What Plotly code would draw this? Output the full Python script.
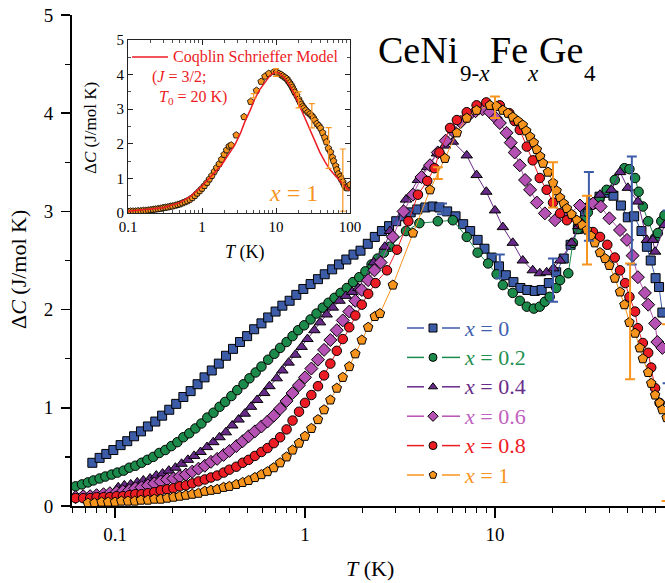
import plotly.graph_objects as go

# ---------------- data ----------------
T_x0 = [0.076, 0.083, 0.090, 0.098, 0.107, 0.116, 0.126, 0.137, 0.149, 0.163, 0.177, 0.193, 0.21, 0.229,
        0.25, 0.272, 0.296, 0.323, 0.352, 0.384, 0.418, 0.455, 0.496, 0.54, 0.59, 0.64, 0.70, 0.76, 0.83,
        0.90, 0.98, 1.07, 1.17, 1.27, 1.39, 1.51, 1.65, 1.80, 1.96, 2.14, 2.33, 2.54, 2.77, 3.02, 3.3,
        3.6, 3.9, 4.3, 4.7, 5.1, 5.6, 6.2, 6.8, 7.4, 8.1, 8.8, 9.6, 10.5, 11.4, 12.5, 13.6, 14.8, 16.2,
        17.6, 19.2, 21, 23, 25, 27.3, 29.8, 32.5, 35.5, 38.7, 42, 46, 50, 54, 59, 63, 66, 70, 73, 76]
C_x0 = [0.44, 0.49, 0.53, 0.57, 0.62, 0.66, 0.71, 0.76, 0.81, 0.86, 0.92, 0.98, 1.04, 1.11,
        1.17, 1.24, 1.31, 1.38, 1.45, 1.53, 1.60, 1.67, 1.73, 1.80, 1.86, 1.92, 1.98, 2.04, 2.09,
        2.15, 2.21, 2.26, 2.31, 2.36, 2.41, 2.46, 2.51, 2.56, 2.60, 2.67, 2.74, 2.80, 2.85, 2.90, 2.95,
        2.99, 3.02, 3.04, 3.05, 3.04, 3.00, 2.95, 2.87, 2.80, 2.71, 2.62, 2.53, 2.44, 2.35, 2.28, 2.22, 2.20, 2.19,
        2.20, 2.27, 2.38, 2.52, 2.66, 2.82, 2.97, 3.08, 3.15, 3.19, 3.16, 3.06, 2.94, 2.95, 2.80, 2.64, 2.50, 2.32, 2.23, 1.97]

T_x02 = [0.062, 0.067, 0.072, 0.077, 0.083, 0.089, 0.096, 0.103, 0.111, 0.119, 0.128, 0.138, 0.148, 0.159,
         0.171, 0.184, 0.198, 0.213, 0.229, 0.246, 0.265, 0.285, 0.306, 0.33, 0.355, 0.38, 0.41, 0.44, 0.475,
         0.51, 0.55, 0.59, 0.64, 0.69, 0.74, 0.80, 0.86, 0.92, 0.99, 1.07, 1.15, 1.24, 1.33, 1.43, 1.54, 1.66,
         1.79, 1.93, 2.08, 2.24, 2.41, 2.6, 2.8, 3.4, 4.0, 5.0, 6.0, 7.1, 8.1, 9.2, 10.2, 11.0, 12.4, 13.5,
         14.7, 16.0, 17.2, 18.3, 19.4, 21, 22, 24.3, 25.7, 27.3, 29, 30.8, 32.8, 35.5, 38.7, 42.7, 48, 51,
         54.6, 57, 60, 64, 69.6, 72, 75, 78]
C_x02 = [0.20, 0.22, 0.24, 0.26, 0.28, 0.30, 0.32, 0.34, 0.36, 0.39, 0.41, 0.44, 0.47, 0.50,
         0.54, 0.57, 0.61, 0.65, 0.70, 0.74, 0.79, 0.84, 0.90, 0.95, 1.01, 1.06, 1.12, 1.18, 1.24,
         1.30, 1.36, 1.42, 1.49, 1.55, 1.61, 1.67, 1.73, 1.79, 1.84, 1.90, 1.96, 2.02, 2.07, 2.12, 2.17, 2.22,
         2.28, 2.33, 2.39, 2.46, 2.52, 2.58, 2.64, 2.80, 2.88, 2.90, 2.91, 2.74, 2.58, 2.47, 2.36, 2.25, 2.17, 2.09,
         2.03, 2.01, 2.03, 2.08, 2.13, 2.22, 2.30, 2.37, 2.68, 2.82, 2.91, 2.99, 3.07, 3.14, 3.22, 3.32, 3.44, 3.43,
         3.34, 3.20, 3.05, 2.90, 2.73, 2.78, 2.90, 2.96]

T_x04 = [0.062, 0.068, 0.074, 0.080, 0.087, 0.094, 0.100, 0.104, 0.112, 0.121, 0.131, 0.141, 0.153, 0.165,
         0.178, 0.192, 0.208, 0.224, 0.242, 0.261, 0.282, 0.305, 0.329, 0.355, 0.383, 0.414, 0.447, 0.482,
         0.52, 0.56, 0.61, 0.65, 0.71, 0.76, 0.82, 0.89, 0.96, 1.03, 1.12, 1.2, 1.3, 1.4, 1.52, 1.64, 1.77,
         1.91, 2.3, 2.63, 2.8, 3.4, 3.93, 4.4, 4.95, 5.45, 6.0, 7.1, 8.0, 9.0, 10.0, 11.0, 12.4, 14.0, 15.8,
         17.2, 18.7, 20.3, 22, 25.3, 27.5, 30.5, 35.7, 41, 45.5, 50, 56.5, 63, 67.6, 69.6, 78]
C_x04 = [0.10, 0.11, 0.11, 0.12, 0.12, 0.13, 0.13, 0.19, 0.21, 0.22, 0.24, 0.26, 0.28, 0.31,
         0.33, 0.36, 0.39, 0.43, 0.47, 0.51, 0.55, 0.60, 0.65, 0.70, 0.75, 0.82, 0.88, 0.94,
         1.01, 1.08, 1.15, 1.22, 1.30, 1.38, 1.46, 1.54, 1.62, 1.70, 1.79, 1.87, 1.95, 2.02, 2.09, 2.14, 2.18,
         2.22, 2.48, 2.64, 2.80, 3.12, 3.32, 3.45, 3.59, 3.67, 3.71, 3.57, 3.37, 3.20, 3.01, 2.84, 2.68, 2.50, 2.40,
         2.37, 2.38, 2.42, 2.50, 2.68, 2.85, 3.05, 3.17, 3.22, 3.40, 3.24, 3.10, 2.71, 2.71, 2.59, 2.86]

T_x06 = [0.062, 0.068, 0.074, 0.080, 0.087, 0.094, 0.102, 0.110, 0.119, 0.128, 0.138, 0.149, 0.161, 0.174,
         0.188, 0.203, 0.219, 0.236, 0.255, 0.275, 0.297, 0.32, 0.345, 0.373, 0.40, 0.435, 0.47, 0.505, 0.545,
         0.59, 0.635, 0.685, 0.74, 0.80, 0.86, 0.93, 1.0, 1.08, 1.17, 1.26, 1.36, 1.47, 1.58, 1.71, 1.84, 1.99,
         2.15, 2.32, 2.5, 2.9, 3.3, 3.7, 4.1, 4.55, 5.0, 5.5, 6.0, 6.6, 7.2, 7.9, 8.6, 9.4, 10.1, 10.6, 11.5,
         12.1, 12.7, 13.5, 14.4, 15.3, 16.6, 18.3, 20.7, 23.9, 28, 32.8, 36, 40, 45.5, 49.5, 53, 56.5, 61.5,
         64, 69.6, 71.5, 76]
C_x06 = [0.09, 0.10, 0.10, 0.11, 0.12, 0.13, 0.14, 0.15, 0.16, 0.18, 0.19, 0.21, 0.23, 0.25,
         0.27, 0.28, 0.30, 0.32, 0.35, 0.38, 0.41, 0.45, 0.48, 0.52, 0.56, 0.61, 0.66, 0.71, 0.76,
         0.81, 0.86, 0.92, 0.99, 1.07, 1.15, 1.23, 1.31, 1.40, 1.49, 1.59, 1.69, 1.79, 1.89, 1.98, 2.09, 2.20,
         2.30, 2.40, 2.48, 2.74, 3.00, 3.17, 3.35, 3.47, 3.60, 3.72, 3.82, 3.91, 3.97, 4.02, 4.04, 4.01, 3.95, 3.90, 3.80,
         3.70, 3.60, 3.47, 3.32, 3.22, 3.09, 2.98, 2.91, 2.96, 3.06, 3.08, 3.05, 2.93, 2.81, 2.71, 2.55, 2.33, 2.17,
         2.05, 1.86, 1.67, 1.61]

T_x08 = [0.062, 0.068, 0.074, 0.080, 0.087, 0.094, 0.102, 0.110, 0.119, 0.128, 0.138, 0.149, 0.161, 0.174,
         0.188, 0.203, 0.219, 0.236, 0.255, 0.275, 0.297, 0.32, 0.345, 0.373, 0.40, 0.435, 0.47, 0.505, 0.545,
         0.59, 0.635, 0.685, 0.74, 0.80, 0.86, 0.93, 1.0, 1.08, 1.17, 1.26, 1.36, 1.47, 1.58, 1.71, 1.84, 1.99,
         2.15, 2.35, 2.7, 3.05, 3.5, 3.93, 4.4, 4.8, 5.1, 5.8, 6.3, 7.1, 8.0, 9.0, 10.6, 11.9, 12.7, 13.5,
         14.7, 15.8, 17.2, 18.7, 20.2, 22, 23.9, 28, 32.8, 35.7, 39, 42.7, 45.5, 48.4, 51, 54.6, 56.5, 60,
         64, 66.4, 69.6, 73.5]
C_x08 = [0.08, 0.08, 0.08, 0.09, 0.09, 0.09, 0.10, 0.10, 0.11, 0.12, 0.12, 0.13, 0.14, 0.16,
         0.17, 0.18, 0.20, 0.21, 0.23, 0.25, 0.27, 0.29, 0.31, 0.34, 0.37, 0.40, 0.44, 0.47, 0.51,
         0.55, 0.59, 0.64, 0.70, 0.78, 0.87, 0.96, 1.05, 1.13, 1.22, 1.33, 1.45, 1.58, 1.70, 1.82, 1.94, 2.05,
         2.16, 2.27, 2.40, 2.61, 2.90, 3.17, 3.31, 3.44, 3.60, 3.85, 3.93, 4.01, 4.08, 4.11, 4.08, 4.00, 3.92, 3.83,
         3.66, 3.52, 3.34, 3.22, 3.09, 2.98, 2.91, 2.88, 2.79, 2.74, 2.66, 2.53, 2.40, 2.27, 2.13, 1.98, 1.81, 1.66,
         1.56, 1.41, 1.20, 1.05]

T_x1 = [0.072, 0.078, 0.085, 0.092, 0.10, 0.108, 0.117, 0.127, 0.137, 0.149, 0.161, 0.174, 0.188, 0.203,
        0.219, 0.236, 0.255, 0.275, 0.297, 0.32, 0.345, 0.373, 0.40, 0.435, 0.47, 0.505, 0.545, 0.59, 0.635,
        0.685, 0.74, 0.80, 0.86, 0.93, 1.0, 1.08, 1.17, 1.26, 1.36, 1.47, 1.58, 1.71, 1.84, 1.99, 2.15, 2.33,
        2.48, 2.9, 3.7, 4.55, 5.45, 6.3, 7.1, 8.0, 9.4, 10.2, 11.0, 11.7, 12.4, 13.2, 14.0, 14.6, 15.3, 16.0,
        16.6, 17.3, 17.9, 19.0, 20.2, 21.1, 22.0, 23.0, 23.9, 25.3, 27.0, 28.8, 30.5, 32.0, 33.5, 35.7, 38,
        40, 42.7, 45.5, 48, 51, 54.6, 57.8, 60, 64, 66.4, 69.6, 73.5, 76, 80, 84, 88, 92, 96, 100]
C_x1 = [0.03, 0.03, 0.04, 0.04, 0.04, 0.05, 0.05, 0.05, 0.06, 0.06, 0.07, 0.07, 0.08, 0.09,
        0.10, 0.11, 0.12, 0.13, 0.15, 0.16, 0.17, 0.19, 0.20, 0.22, 0.24, 0.26, 0.29, 0.32, 0.35,
        0.39, 0.44, 0.50, 0.57, 0.64, 0.71, 0.79, 0.88, 0.98, 1.08, 1.20, 1.31, 1.42, 1.55, 1.69, 1.82, 1.93,
        1.96, 2.25, 2.78, 3.22, 3.54, 3.80, 3.95, 4.03, 4.08, 4.07, 4.03, 4.00, 3.96, 3.92, 3.88, 3.82, 3.76, 3.70,
        3.63, 3.56, 3.49, 3.40, 3.29, 3.21, 3.14, 3.08, 3.03, 2.97, 2.91, 2.86, 2.81, 2.75, 2.68, 2.58, 2.52,
        2.45, 2.32, 2.18, 2.05, 1.87, 1.76, 1.61, 1.50, 1.36, 1.25, 1.13, 1.05, 0.98, 0.90, 0.80, 0.74, 0.72, 0.78, 0.82]

# error bars
errT_x0 = [5.26, 10.6, 20.2, 31.2, 52.5, 81]
errC_x0 = [3.025, 2.44, 2.30, 3.05, 3.01, 2.13]
errE_x0 = [0.055, 0.12, 0.22, 0.35, 0.55, 0.88]
errT_x1 = [5.0, 10.0, 20.2, 30.5, 51.4, 80]
errC_x1 = [3.39, 4.06, 3.27, 2.81, 1.88, 0.95]
errE_x1 = [0.06, 0.11, 0.23, 0.35, 0.59, 0.90]

# Coqblin-Schrieffer model (inset)
T_cs = [0.1, 0.2, 0.3, 0.5, 0.7, 1.0, 1.4, 1.84, 2.3, 2.78, 3.3, 3.8, 4.5, 5.2, 6.1, 7.1, 8.3, 9.7,
        11.3, 13.2, 15.4, 18, 21, 24.6, 28.7, 33.6, 39, 46, 53, 62, 71, 81, 90, 100]
C_cs = [0.05, 0.10, 0.15, 0.30, 0.48, 0.78, 1.10, 1.39, 1.70, 1.97, 2.30, 2.64, 2.98, 3.31, 3.58, 3.79, 3.97, 4.07,
        4.03, 3.89, 3.68, 3.41, 3.08, 2.74, 2.40, 2.06, 1.76, 1.48, 1.27, 1.10, 0.95, 0.81, 0.72, 0.65]

labels = ["0", "0.2", "0.4", "0.6", "0.8", "1"]

# ---------------- styling ----------------
W, H = 665, 583
ML, MR, MT, MB = 72, 0, 15, 77
PW, PH = W - ML - MR, H - MT - MB
SERIF = "Liberation Serif"


def px(xp):
    return (xp - ML) / PW


def py(yp):
    return (H - MB - yp) / PH


series = [
    (T_x0, C_x0, "square", "#3c5ca8", "#4060b0", 9),
    (T_x02, C_x02, "circle", "#1c8a4a", "#1f9150", 9.5),
    (T_x04, C_x04, "triangle-up", "#682a88", "#6a2c8a", 10),
    (T_x06, C_x06, "diamond", "#b451b2", "#c060c0", 10),
    (T_x08, C_x08, "circle", "#ec1c24", "#ee2024", 9.5),
    (T_x1, C_x1, "pentagon", "#f7941d", "#f7941d", 10),
]

fig = go.Figure()
for (tx, cy, sym, col, tcol, ms), lab in zip(series, labels):
    fig.add_trace(go.Scatter(
        x=tx, y=cy, mode="lines+markers", name="x = " + lab, showlegend=False,
        line=dict(color=col, width=1),
        marker=dict(symbol=sym, size=ms, color=col, line=dict(color="black", width=1)),
        xaxis="x", yaxis="y"))

for et, ec, ee, col in [(errT_x0, errC_x0, errE_x0, "#3c5ca8"), (errT_x1, errC_x1, errE_x1, "#f7941d")]:
    fig.add_trace(go.Scatter(
        x=et, y=ec, mode="markers", showlegend=False,
        marker=dict(size=1, color="rgba(0,0,0,0)"),
        error_y=dict(type="data", array=ee, visible=True, color=col, thickness=2, width=5),
        xaxis="x", yaxis="y", hoverinfo="skip"))

# inset
fig.add_trace(go.Scatter(
    x=T_x1, y=C_x1, mode="markers", showlegend=False,
    marker=dict(symbol="pentagon", size=7, color="#f7941d", line=dict(color="black", width=0.8)),
    xaxis="x2", yaxis="y2"))
fig.add_trace(go.Scatter(
    x=T_cs, y=C_cs, mode="lines", showlegend=False,
    line=dict(color="#ec1c24", width=1.5), xaxis="x2", yaxis="y2"))
fig.add_trace(go.Scatter(
    x=errT_x1, y=errC_x1, mode="markers", showlegend=False,
    marker=dict(size=1, color="rgba(0,0,0,0)"),
    error_y=dict(type="data", array=errE_x1, visible=True, color="#f7941d", thickness=1.2, width=3),
    xaxis="x2", yaxis="y2", hoverinfo="skip"))

# ---- hand-made legend (line - marker - line, coloured label) ----
leg_y = [py(328 + 29.4 * i) for i in range(6)]
fig.add_trace(go.Scatter(
    x=[px(433)] * 6, y=leg_y, mode="markers", showlegend=False, hoverinfo="skip",
    marker=dict(symbol=[s[2] for s in series], size=8, color=[s[3] for s in series],
                line=dict(color="black", width=1)),
    xaxis="x4", yaxis="y4"))

shapes = []
annots = []
for (tx, cy, sym, col, tcol, ms), lab, yy in zip(series, labels, leg_y):
    for a, b in ((407, 424), (442, 460)):
        shapes.append(dict(type="line", xref="paper", yref="paper", x0=px(a), x1=px(b), y0=yy, y1=yy,
                           line=dict(color=col, width=1.5)))
    annots.append(dict(x=px(462), y=yy, text=f"<i>x</i> = {lab}", xanchor="left",
                       font=dict(size=22, color=tcol)))

# title pieces (formula with deep subscripts)
title_parts = [
    ("CeNi", 376, 50, 38), ("9-<i>x</i>", 458, 73, 23), ("Fe", 488, 50, 38),
    ("<i>x</i>", 525, 73, 23), ("Ge", 537, 50, 38), ("4", 582, 73, 23),
]
for txt, xl, yc, fs in title_parts:
    annots.append(dict(x=px(xl), y=py(yc), text=txt, xanchor="left", font=dict(size=fs)))

minor_main = [m * 10 ** d for d in (-2, -1, 0, 1) for m in range(2, 10)]
minor_inset = [m * 10 ** d for d in (-1, 0, 1) for m in range(2, 10)]
xr = [-1.2263, 1.8947]
tickfont = dict(family=SERIF, size=19, color="black")
insfont = dict(family=SERIF, size=15, color="black")

fig.update_layout(
    width=W, height=H,
    margin=dict(l=ML, r=MR, t=MT, b=MB, autoexpand=False),
    paper_bgcolor="white", plot_bgcolor="white",
    font=dict(family=SERIF, color="black"),
    showlegend=False,
    xaxis=dict(type="log", range=xr, domain=[0, 1], anchor="y", automargin=False,
               showline=True, linecolor="black", linewidth=2, mirror=False,
               ticks="outside", ticklen=10, tickwidth=1.5, tickcolor="black",
               tickvals=[0.1, 1, 10], ticktext=["0.1", "1", "10"], tickfont=tickfont,
               minor=dict(ticks="outside", ticklen=5, tickwidth=1.2, tickcolor="black",
                          tickmode="array", tickvals=minor_main),
               showgrid=False, zeroline=False),
    yaxis=dict(range=[0, 5], domain=[0, 1], anchor="x", automargin=False,
               showline=True, linecolor="black", linewidth=2,
               ticks="outside", ticklen=9, tickwidth=1.5, tickcolor="black",
               tickvals=[0, 1, 2, 3, 4, 5], tickfont=tickfont, ticklabelstandoff=4,
               minor=dict(ticks="outside", ticklen=5, tickwidth=1.2, tickcolor="black", dtick=0.5),
               showgrid=False, zeroline=False),
    xaxis3=dict(type="log", range=xr, overlaying="x", side="top", anchor="y", automargin=False,
                showline=True, linecolor="black", linewidth=2,
                ticks="inside", ticklen=10, tickwidth=1.5, tickcolor="black",
                tickvals=[0.1, 1, 10], showticklabels=False,
                minor=dict(ticks="inside", ticklen=5, tickwidth=1.2, tickcolor="black",
                           tickmode="array", tickvals=minor_main),
                showgrid=False, zeroline=False),
    yaxis3=dict(range=[0, 5], overlaying="y", side="right", anchor="x", automargin=False,
                showline=False, ticks="inside", ticklen=8, tickwidth=1.5, tickcolor="black",
                tickvals=[0, 1, 2, 3, 4, 5], showticklabels=False,
                minor=dict(ticks="inside", ticklen=5, tickwidth=1.2, tickcolor="black", dtick=0.5),
                showgrid=False, zeroline=False),
    xaxis4=dict(range=[0, 1], overlaying="x", anchor="y4", visible=False, automargin=False),
    yaxis4=dict(range=[0, 1], overlaying="y", anchor="x4", visible=False, automargin=False),
    xaxis2=dict(type="log", range=[-1, 2], domain=[px(128), px(350)], anchor="y2", automargin=False,
                showline=True, linecolor="#222", linewidth=1, mirror="ticks",
                ticks="inside", ticklen=5, tickwidth=1, tickcolor="#222",
                tickvals=[0.1, 1, 10, 100], ticktext=["0.1", "1", "10", "100"], tickfont=insfont,
                minor=dict(ticks="inside", ticklen=3, tickwidth=0.8, tickcolor="#222",
                           tickmode="array", tickvals=minor_inset),
                showgrid=False, zeroline=False),
    yaxis2=dict(range=[0, 5], domain=[py(213), py(40)], anchor="x2", automargin=False,
                showline=True, linecolor="#222", linewidth=1, mirror="ticks",
                ticks="inside", ticklen=5, tickwidth=1, tickcolor="#222",
                tickvals=[0, 1, 2, 3, 4, 5], tickfont=insfont,
                minor=dict(ticks="inside", ticklen=3, tickwidth=0.8, tickcolor="#222", dtick=0.5),
                showgrid=False, zeroline=False),
)

ann = [
    dict(x=px(18), y=py(270), text="Δ<i>C</i> (J/mol K)", textangle=-90, font=dict(size=22)),
    dict(x=px(370), y=py(568), text="<i>T</i> (K)", font=dict(size=22)),
    dict(x=px(90), y=py(128), text="Δ<i>C</i> (J/mol K)", textangle=-90, font=dict(size=17)),
    dict(x=px(245), y=py(252), text="<i>T</i> (K)", font=dict(size=18)),
    dict(x=px(171), y=py(57), text="Coqblin Schrieffer Model", xanchor="left",
         font=dict(size=16, color="#ec1c24")),
    dict(x=px(150), y=py(77), text="(<i>J</i> = 3/2;", xanchor="left", font=dict(size=16, color="#ec1c24")),
    dict(x=px(157), y=py(97), text="<i>T</i><sub>0</sub> = 20 K)", xanchor="left",
         font=dict(size=16, color="#ec1c24")),
    dict(x=px(293), y=py(193), text="<i>x</i> = 1", font=dict(size=24, color="#f7941d")),
] + annots
for a in ann:
    a.setdefault("xanchor", "center")
    a.update(xref="paper", yref="paper", showarrow=False, yanchor="middle")
    a["font"].setdefault("family", SERIF)
    a["font"].setdefault("color", "black")
fig.update_layout(annotations=ann)

shapes.append(dict(type="line", xref="paper", yref="paper", x0=px(132), x1=px(168), y0=py(57), y1=py(57),
                   line=dict(color="#ec1c24", width=1.5)))
fig.update_layout(shapes=shapes)

fig.write_html("out.html", config={"displayModeBar": False, "staticPlot": True},
               post_script="document.body.style.margin='0';document.body.style.overflow='hidden';")
